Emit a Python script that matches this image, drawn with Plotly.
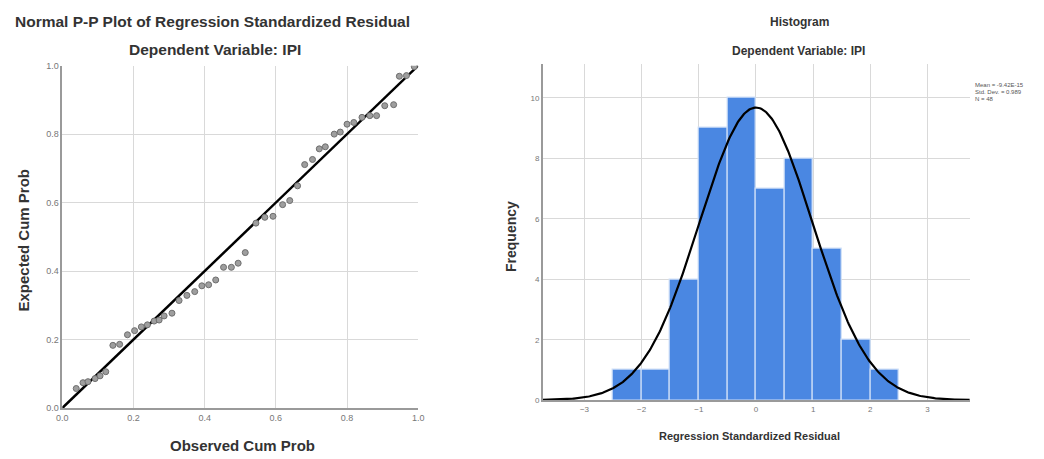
import numpy as np
import plotly.graph_objects as go

# ---- P-P plot data ----
observed_cum_prob = [0.039, 0.058, 0.072, 0.092, 0.106, 0.122, 0.142, 0.161, 0.183, 0.203,
                     0.222, 0.239, 0.258, 0.272, 0.286, 0.308, 0.328, 0.350, 0.372, 0.392,
                     0.411, 0.431, 0.453, 0.475, 0.494, 0.514, 0.544, 0.569, 0.592, 0.619,
                     0.639, 0.661, 0.681, 0.703, 0.722, 0.739, 0.764, 0.781, 0.800, 0.819,
                     0.842, 0.864, 0.883, 0.906, 0.931, 0.947, 0.967, 0.989]
expected_cum_prob = [0.057, 0.074, 0.077, 0.086, 0.094, 0.106, 0.183, 0.186, 0.214, 0.226,
                     0.237, 0.243, 0.254, 0.257, 0.269, 0.277, 0.314, 0.329, 0.340, 0.357,
                     0.360, 0.374, 0.411, 0.411, 0.423, 0.454, 0.540, 0.557, 0.560, 0.594,
                     0.606, 0.649, 0.711, 0.726, 0.757, 0.763, 0.800, 0.806, 0.829, 0.834,
                     0.849, 0.854, 0.854, 0.883, 0.886, 0.969, 0.971, 0.997]
diag = [0.0, 1.0]

# ---- Histogram data ----
bin_centers = [-2.25, -1.75, -1.25, -0.75, -0.25, 0.25, 0.75, 1.25, 1.75, 2.25]
bin_counts = [1, 1, 4, 9, 10, 7, 8, 5, 2, 1]
bin_width = 0.5
mean_val = 0.0
std_dev = 0.989
n_obs = 48
legend_lines = ["Mean = -9.42E-15", "Std. Dev. = 0.989", "N = 48"]

pp_ticks = [0.0, 0.2, 0.4, 0.6, 0.8, 1.0]
pp_ticklabels = ["0.0", "0.2", "0.4", "0.6", "0.8", "1.0"]
hist_xticks = [-3, -2, -1, 0, 1, 2, 3]
hist_yticks = [0, 2, 4, 6, 8, 10]

W, H = 1044, 459
def px(x):
    return x / W
def py(y):
    return 1 - y / H

FONT = "Liberation Sans, Arial, sans-serif"
BLUE = "#4a87e2"
GRID = "#d9d9d9"
AXIS = "#9a9a9a"
TXT = "#333333"

fig = go.Figure()

fig.add_trace(go.Scatter(x=diag, y=diag, mode="lines",
                         line=dict(color="black", width=2.5),
                         xaxis="x", yaxis="y", showlegend=False, hoverinfo="skip"))
fig.add_trace(go.Scatter(x=observed_cum_prob, y=expected_cum_prob, mode="markers",
                         marker=dict(size=6, color="#9e9e9e", line=dict(color="#6e6e6e", width=1)),
                         xaxis="x", yaxis="y", showlegend=False))

fig.add_trace(go.Bar(x=bin_centers, y=bin_counts, width=[bin_width] * len(bin_centers),
                     marker=dict(color=BLUE, line=dict(color="#cfe0f7", width=1.2)),
                     xaxis="x2", yaxis="y2", showlegend=False))

xs = np.linspace(-3.73, 3.74, 400)
ys = n_obs * bin_width * np.exp(-0.5 * ((xs - mean_val) / std_dev) ** 2) / (std_dev * np.sqrt(2 * np.pi))
fig.add_trace(go.Scatter(x=xs, y=ys, mode="lines", line=dict(color="black", width=2.2),
                         xaxis="x2", yaxis="y2", showlegend=False, hoverinfo="skip"))

axis_common = dict(showgrid=True, gridcolor=GRID, gridwidth=1, zeroline=False,
                   showline=True, linecolor=AXIS, linewidth=1.5, ticks="",
                   mirror=False)

fig.update_layout(
    width=W, height=H,
    margin=dict(l=0, r=0, t=0, b=0),
    paper_bgcolor="white", plot_bgcolor="white",
    bargap=0,
    xaxis=dict(domain=[px(57), px(417)], range=[0, 1], tickvals=pp_ticks, ticktext=pp_ticklabels,
               tickfont=dict(family=FONT, size=9, color="#777777"), anchor="y", **axis_common),
    yaxis=dict(domain=[py(412), py(62)], range=[0, 1], tickvals=pp_ticks, ticktext=pp_ticklabels,
               tickfont=dict(family=FONT, size=9, color="#777777"), anchor="x", **axis_common),
    xaxis2=dict(domain=[px(543), px(975)], range=[-3.73, 3.74], tickvals=hist_xticks,
                tickfont=dict(family=FONT, size=8, color="#777777"), anchor="y2", **axis_common),
    yaxis2=dict(domain=[py(404), py(60)], range=[0, 11.13], tickvals=hist_yticks,
                tickfont=dict(family=FONT, size=8, color="#777777"), anchor="x2", **axis_common),
)

annotations = [
    dict(x=px(209), y=py(17), text="<b>Normal P-P Plot of Regression Standardized Residual</b>",
         font=dict(family=FONT, size=15.5, color=TXT)),
    dict(x=px(211), y=py(45), text="<b>Dependent Variable: IPI</b>",
         font=dict(family=FONT, size=15.5, color=TXT)),
    dict(x=px(803), y=py(17), text="<b>Histogram</b>",
         font=dict(family=FONT, size=12, color=TXT)),
    dict(x=px(802), y=py(47), text="<b>Dependent Variable: IPI</b>",
         font=dict(family=FONT, size=12, color=TXT)),
    dict(x=px(239), y=py(450), text="<b>Observed Cum Prob</b>",
         font=dict(family=FONT, size=15, color=TXT)),
    dict(x=px(18), y=py(240), text="<b>Expected Cum Prob</b>", textangle=-90,
         font=dict(family=FONT, size=15, color=TXT)),
    dict(x=px(511), y=py(237), text="<b>Frequency</b>", textangle=-90,
         font=dict(family=FONT, size=14, color=TXT)),
    dict(x=px(752), y=py(441), text="<b>Regression Standardized Residual</b>",
         font=dict(family=FONT, size=11, color=TXT)),
]
for i, line in enumerate(legend_lines):
    annotations.append(dict(x=px(978), y=py(82 + 7 * i), text=line, xanchor="left",
                            font=dict(family=FONT, size=6, color="#555555")))
for a in annotations:
    a.setdefault("xanchor", "center")
    a.update(xref="paper", yref="paper", showarrow=False, yanchor="middle")
fig.update_layout(annotations=annotations)

fig.write_html("out.html", config={"displayModeBar": False},
               post_script="document.body.style.margin='0';")
